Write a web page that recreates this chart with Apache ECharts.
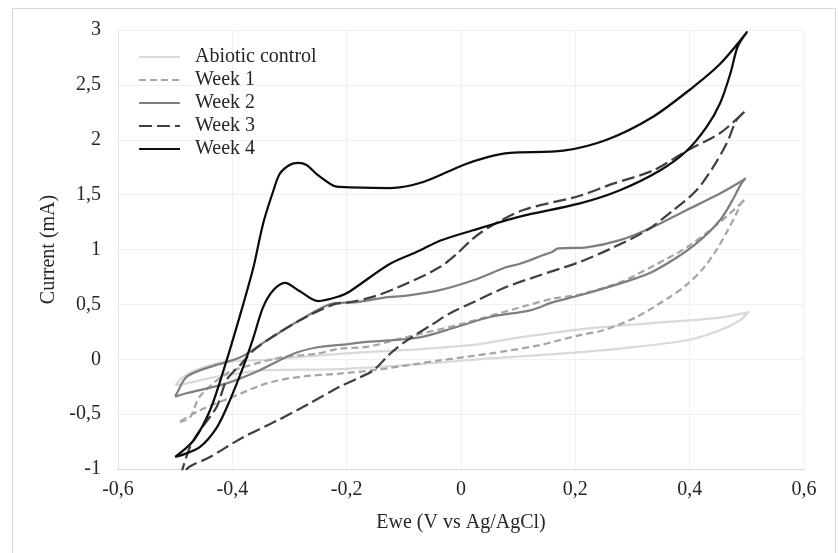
<!DOCTYPE html>
<html>
<head>
<meta charset="utf-8">
<script src="https://cdn.jsdelivr.net/npm/echarts@6/dist/echarts.min.js"></script>
<style>
  html, body { margin: 0; padding: 0; background: #ffffff; }
  #chart { width: 838px; height: 553px; }
</style>
</head>
<body>
<div id="chart"></div>
<script>
// Cyclic voltammograms: each array is [potential (V vs Ag/AgCl), current (mA)] in scan order
const seriesNames = ['Abiotic control', 'Week 1', 'Week 2', 'Week 3', 'Week 4'];

const abioticControl = [
  [-0.50, -0.237], [-0.486, -0.16], [-0.457, -0.085], [-0.41, -0.02], [-0.34, -0.005],
  [-0.212, 0.05], [-0.0775, 0.09], [0.0215, 0.13], [0.103, 0.20], [0.22, 0.28],
  [0.336, 0.33], [0.453, 0.38], [0.503, 0.43],
  [0.488, 0.355], [0.453, 0.264], [0.395, 0.173], [0.278, 0.097], [0.1615, 0.046],
  [0.045, 0.006], [-0.072, -0.045], [-0.212, -0.09], [-0.34, -0.10], [-0.428, -0.16],
  [-0.48, -0.22], [-0.50, -0.237]
];

const week1 = [
  [-0.492, -0.57], [-0.474, -0.53], [-0.457, -0.34], [-0.41, -0.13], [-0.369, -0.055],
  [-0.311, 0.02], [-0.253, 0.05], [-0.212, 0.097], [-0.165, 0.112], [-0.095, 0.203],
  [0.0, 0.32], [0.115, 0.49], [0.1615, 0.553], [0.208, 0.59], [0.278, 0.70],
  [0.336, 0.85], [0.395, 1.02], [0.453, 1.25], [0.497, 1.455],
  [0.491, 1.43], [0.482, 1.33], [0.465, 1.16], [0.445, 0.98], [0.424, 0.83],
  [0.395, 0.68], [0.366, 0.57], [0.307, 0.385], [0.249, 0.264], [0.208, 0.22],
  [0.1615, 0.16], [0.138, 0.128], [0.051, 0.052], [-0.037, -0.01], [-0.153, -0.10],
  [-0.212, -0.13], [-0.282, -0.16], [-0.34, -0.22], [-0.398, -0.34], [-0.457, -0.465],
  [-0.492, -0.57]
];

const week2 = [
  [-0.50, -0.34], [-0.497, -0.31], [-0.48, -0.16], [-0.439, -0.07], [-0.387, 0.015],
  [-0.34, 0.17], [-0.282, 0.355], [-0.223, 0.51], [-0.183, 0.52], [-0.136, 0.56],
  [-0.095, 0.58], [-0.037, 0.63], [0.0215, 0.72], [0.08, 0.84], [0.103, 0.87],
  [0.144, 0.95], [0.16, 0.98], [0.17, 1.01], [0.22, 1.02], [0.278, 1.085],
  [0.336, 1.205], [0.395, 1.36], [0.453, 1.51], [0.488, 1.615], [0.497, 1.646],
  [0.488, 1.58], [0.475, 1.45], [0.455, 1.28], [0.424, 1.11], [0.39, 0.97],
  [0.336, 0.80], [0.29, 0.71], [0.208, 0.583], [0.1615, 0.52], [0.121, 0.446],
  [0.051, 0.385], [-0.0075, 0.294], [-0.072, 0.20], [-0.165, 0.158], [-0.212, 0.13],
  [-0.253, 0.107], [-0.293, 0.05], [-0.352, -0.10], [-0.41, -0.22], [-0.48, -0.31],
  [-0.50, -0.34]
];

const week3 = [
  [-0.49, -1.06], [-0.486, -0.98], [-0.474, -0.80], [-0.457, -0.65], [-0.427, -0.43],
  [-0.41, -0.19], [-0.384, -0.04], [-0.363, 0.08], [-0.334, 0.19], [-0.282, 0.355],
  [-0.223, 0.50], [-0.194, 0.52], [-0.153, 0.57], [-0.095, 0.69], [-0.037, 0.84],
  [-0.0075, 0.96], [0.021, 1.10], [0.051, 1.21], [0.109, 1.36], [0.208, 1.49],
  [0.266, 1.60], [0.336, 1.72], [0.395, 1.90], [0.453, 2.06], [0.497, 2.26],
  [0.482, 2.18], [0.465, 1.97], [0.441, 1.75], [0.412, 1.54], [0.372, 1.36],
  [0.325, 1.175], [0.267, 1.02], [0.208, 0.887], [0.138, 0.765], [0.08, 0.66],
  [0.0215, 0.52], [-0.019, 0.42], [-0.048, 0.325], [-0.095, 0.17], [-0.124, 0.05],
  [-0.153, -0.10], [-0.183, -0.18], [-0.212, -0.25], [-0.264, -0.40], [-0.322, -0.56],
  [-0.381, -0.71], [-0.439, -0.89], [-0.475, -0.98], [-0.49, -1.06]
];

const week4 = [
  [-0.50, -0.89], [-0.468, -0.74], [-0.439, -0.465], [-0.41, -0.01], [-0.381, 0.50],
  [-0.363, 0.84], [-0.346, 1.24], [-0.328, 1.54], [-0.317, 1.69], [-0.30, 1.77],
  [-0.285, 1.79], [-0.27, 1.77], [-0.253, 1.69], [-0.223, 1.58], [-0.212, 1.57],
  [-0.194, 1.565], [-0.124, 1.56], [-0.066, 1.615], [0.004, 1.77], [0.045, 1.84],
  [0.086, 1.88], [0.179, 1.90], [0.255, 2.00], [0.336, 2.21], [0.406, 2.48],
  [0.453, 2.69], [0.50, 2.98],
  [0.484, 2.85], [0.471, 2.60], [0.453, 2.33], [0.430, 2.12], [0.395, 1.90],
  [0.348, 1.72], [0.278, 1.54], [0.208, 1.42], [0.103, 1.30], [0.021, 1.175],
  [-0.037, 1.08], [-0.072, 0.99], [-0.124, 0.87], [-0.194, 0.62], [-0.212, 0.575],
  [-0.25, 0.53], [-0.282, 0.62], [-0.308, 0.695], [-0.328, 0.63], [-0.346, 0.477],
  [-0.363, 0.20], [-0.381, -0.07], [-0.404, -0.37], [-0.427, -0.62], [-0.457, -0.80],
  [-0.492, -0.88], [-0.50, -0.89]
];

const xTicks = { min: -0.6, max: 0.6, step: 0.2 };
const yTicks = { min: -1, max: 3, step: 0.5 };

const seriesData = [abioticControl, week1, week2, week3, week4];
const seriesColors = ['#d9d9d9', '#a6a6a6', '#7f7f7f', '#404040', '#0d0d0d'];
const seriesDash = ['solid', [7, 4], 'solid', [13, 5], 'solid'];

const FONT = '"Liberation Serif", "Times New Roman", serif';
const textColor = '#262626';

// decimal comma, as on the printed axes
function commaLabel(v) {
  const r = Math.round(v * 10) / 10;
  return String(r === 0 ? 0 : r).replace('.', ',');
}

const chart = echarts.init(document.getElementById('chart'), null, { renderer: 'canvas' });

chart.setOption({
  backgroundColor: '#ffffff',
  animation: false,
  graphic: [{
    type: 'rect',
    shape: { x: 12.5, y: 8.5, width: 823, height: 560 },
    style: { fill: 'none', stroke: '#d9d9d9', lineWidth: 1 },
    silent: true,
    z: -1
  }],
  grid: { left: 118, right: 34, top: 30, bottom: 84, containLabel: false },
  legend: {
    orient: 'vertical',
    left: 133,
    top: 42,
    itemWidth: 41,
    itemHeight: 14,
    itemGap: 3,
    itemStyle: { opacity: 0 },
    // small lead-in so the names sit clear of the line samples
    formatter: '\u00a0\u00a0{name}',
    textStyle: { fontFamily: FONT, fontSize: 20, color: textColor },
    data: seriesNames
  },
  xAxis: {
    type: 'value',
    min: xTicks.min,
    max: xTicks.max,
    interval: xTicks.step,
    name: 'Ewe (V vs Ag/AgCl)',
    nameLocation: 'middle',
    nameGap: 44,
    nameTextStyle: { fontFamily: FONT, fontSize: 20, color: textColor },
    axisLine: { show: true, onZero: false, lineStyle: { color: '#d9d9d9', width: 1 } },
    axisTick: { show: false },
    axisLabel: { fontFamily: FONT, fontSize: 20, color: textColor, margin: 11, formatter: commaLabel },
    splitLine: { show: true, lineStyle: { color: '#f0f0f0', width: 1 } }
  },
  yAxis: {
    type: 'value',
    min: yTicks.min,
    max: yTicks.max,
    interval: yTicks.step,
    name: 'Current (mA)',
    nameLocation: 'middle',
    nameGap: 59,
    nameTextStyle: { fontFamily: FONT, fontSize: 20, color: textColor },
    axisLine: { show: true, onZero: false, lineStyle: { color: '#dce6f2', width: 1 } },
    axisTick: { show: false },
    axisLabel: { fontFamily: FONT, fontSize: 20, color: textColor, margin: 17, formatter: commaLabel },
    splitLine: { show: true, lineStyle: { color: '#f0f0f0', width: 1 } }
  },
  series: seriesNames.map((name, i) => ({
    name: name,
    type: 'line',
    data: seriesData[i],
    showSymbol: false,
    symbol: 'none',
    smooth: 0.3,
    clip: true,
    color: seriesColors[i],
    lineStyle: { color: seriesColors[i], width: 2.25, type: seriesDash[i], cap: 'butt', join: 'round' },
    z: 2 + i
  }))
});
</script>
</body>
</html>
